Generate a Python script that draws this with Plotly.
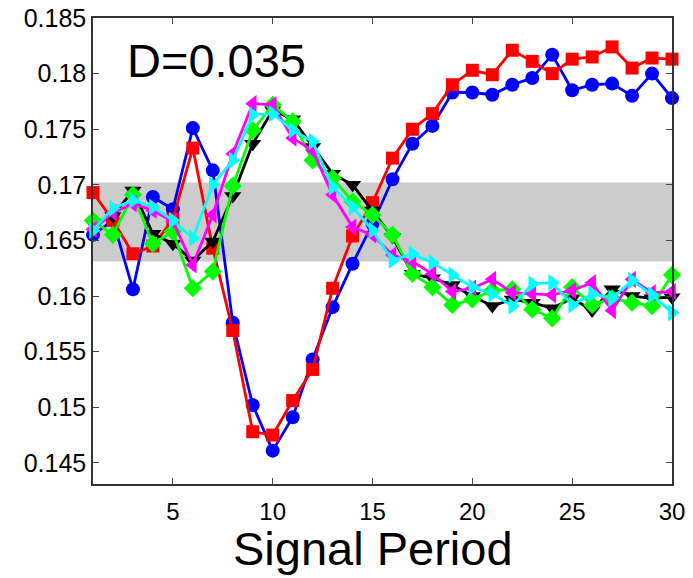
import plotly.graph_objects as go

x = list(range(1, 31))

blue = [0.1655, 0.1668, 0.1606, 0.1689, 0.1678, 0.1751, 0.1713, 0.1576, 0.1502, 0.1461,
        0.1491, 0.1543, 0.1590, 0.1629, 0.1665, 0.1705, 0.1737, 0.1753, 0.1783, 0.1783,
        0.1781, 0.1790, 0.1796, 0.1817, 0.1785, 0.1790, 0.1791, 0.1780, 0.1800, 0.1778]
red = [0.1693, 0.1668, 0.1638, 0.1645, 0.1669, 0.1733, 0.1643, 0.1569, 0.1478, 0.1475,
       0.1506, 0.1534, 0.1607, 0.1654, 0.1684, 0.1724, 0.1750, 0.1764, 0.1790, 0.1803,
       0.1799, 0.1821, 0.1811, 0.1800, 0.1813, 0.1815, 0.1824, 0.1805, 0.1814, 0.1813]
black = [0.1665, 0.1672, 0.1695, 0.1656, 0.1647, 0.1632, 0.1649, 0.1690, 0.1737, 0.1767,
         0.1759, 0.1734, 0.1710, 0.1700, 0.1677, 0.1653, 0.1620, 0.1616, 0.1610, 0.1600,
         0.1591, 0.1597, 0.1594, 0.1589, 0.1598, 0.1587, 0.1606, 0.1600, 0.1598, 0.1599]
green = [0.1668, 0.1655, 0.1691, 0.1647, 0.1658, 0.1607, 0.1622, 0.1699, 0.1749, 0.1772,
         0.1757, 0.1722, 0.1706, 0.1685, 0.1673, 0.1655, 0.1620, 0.1608, 0.1592, 0.1597,
         0.1605, 0.1606, 0.1588, 0.1580, 0.1608, 0.1592, 0.1598, 0.1594, 0.1591, 0.1619]
magenta = [0.1660, 0.1675, 0.1683, 0.1677, 0.1667, 0.1628, 0.1673, 0.1728, 0.1773, 0.1772,
           0.1742, 0.1731, 0.1691, 0.1662, 0.1655, 0.1637, 0.1631, 0.1620, 0.1604, 0.1607,
           0.1615, 0.1603, 0.1602, 0.1601, 0.1605, 0.1612, 0.1587, 0.1615, 0.1603, 0.1604]
cyan = [0.1659, 0.1679, 0.1686, 0.1680, 0.1668, 0.1652, 0.1700, 0.1722, 0.1763, 0.1764,
        0.1749, 0.1739, 0.1698, 0.1680, 0.1659, 0.1632, 0.1638, 0.1630, 0.1619, 0.1608,
        0.1602, 0.1591, 0.1611, 0.1612, 0.1592, 0.1602, 0.1598, 0.1614, 0.1601, 0.1585]

band_low, band_high = 0.1631, 0.1702
y_ticks = [0.145, 0.15, 0.155, 0.16, 0.165, 0.17, 0.175, 0.18, 0.185]
y_tick_text = ["0.145", "0.15", "0.155", "0.16", "0.165", "0.17", "0.175", "0.18", "0.185"]
x_ticks = [5, 10, 15, 20, 25, 30]

series = [
    (blue, "#0000ff", "circle", 14),
    (red, "#ff0000", "square", 13),
    (black, "#000000", "triangle-down", 15),
    (green, "#00ff00", "diamond", 14),
    (magenta, "#ff00ff", "triangle-left", 15),
    (cyan, "#00ffff", "triangle-right", 15),
]

fig = go.Figure()
for ys, col, sym, sz in series:
    fig.add_trace(go.Scatter(
        x=x, y=ys, mode="lines+markers",
        line=dict(color=col, width=2.8),
        marker=dict(symbol=sym, size=sz, color=col, line=dict(width=0)),
        showlegend=False, cliponaxis=False,
    ))

fig.add_shape(type="rect", xref="paper", yref="y", x0=0, x1=1,
              y0=band_low, y1=band_high, fillcolor="#cccccc",
              line=dict(width=0), layer="below")

fig.add_annotation(text="D=0.035", xref="paper", yref="paper", x=0.055, y=0.908,
                   xanchor="left", yanchor="middle", showarrow=False,
                   font=dict(family="Liberation Sans, Arial", size=47, color="black"))
fig.add_annotation(text="Signal Period", xref="paper", yref="paper", x=0.4836, y=-0.139,
                   xanchor="center", yanchor="middle", showarrow=False,
                   font=dict(family="Liberation Sans, Arial", size=47, color="black"))

fig.update_layout(
    width=693, height=578,
    margin=dict(l=93, r=21, t=18, b=94, autoexpand=False),
    plot_bgcolor="white", paper_bgcolor="white",
    font=dict(family="Liberation Sans, Arial", size=24, color="black"),
    xaxis=dict(range=[1, 30], tickvals=x_ticks, ticks="inside", ticklen=6,
               showline=True, linecolor="#333333", linewidth=1.5, mirror="ticks",
               showgrid=False, zeroline=False, tickfont=dict(size=24),
               automargin=False, ticklabelstandoff=5),
    yaxis=dict(range=[0.1431, 0.185], tickvals=y_ticks, ticktext=y_tick_text,
               ticks="inside", ticklen=6, automargin=False,
               showline=True, linecolor="#333333", linewidth=1.5, mirror="ticks",
               showgrid=False, zeroline=False, tickfont=dict(size=25)),
)

fig.write_html("out.html")
